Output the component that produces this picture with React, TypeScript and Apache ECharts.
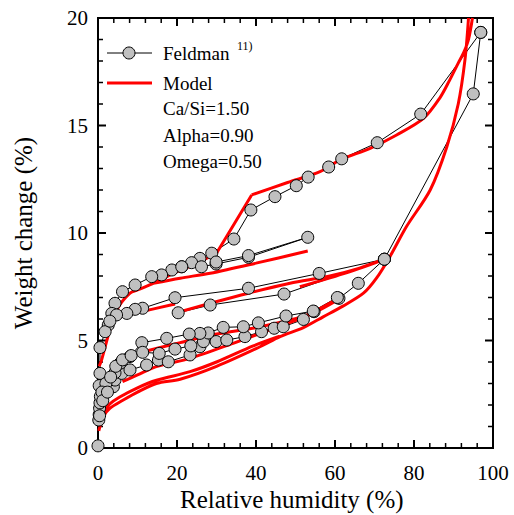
import React, { useEffect, useRef } from "react";
import * as echarts from "echarts";

type P = [number, number];

// Feldman measured data (RH %, weight change %)
const feldmanAdsorption: P[] = [
  [0, 0.1], [0.2, 1.3], [0.3, 1.55], [0.4, 1.85], [0.5, 2.1], [0.6, 2.4], [1.8, 2.85], [2.6, 2.93],
  [3.9, 2.85], [4.3, 3.16], [6.0, 3.47], [8.1, 3.63], [12.3, 3.86], [15.3, 4.09], [17.8, 4.01],
  [23.3, 4.33], [25.8, 4.71], [26.7, 4.95], [29.9, 4.95], [32.6, 5.02], [37.2, 5.18], [41.4, 5.41],
  [44.6, 5.57], [46.9, 5.64], [52, 5.98], [54.7, 6.34], [61, 6.96], [65.9, 7.66], [72.5, 8.78],
  [95, 16.47], [96.9, 19.33],
];
const feldmanDesorption: P[] = [
  [96.9, 19.33], [81.7, 15.53], [70.7, 14.2], [61.7, 13.45], [58.4, 13.07], [53.2, 12.6], [50.2, 12.2],
  [44.8, 11.69], [38.7, 11.07], [34.4, 9.72], [28.8, 9.06], [25.8, 8.82], [23.7, 8.62], [21.2, 8.43],
  [18.7, 8.28], [16.1, 8.05], [13.6, 7.97], [9.4, 7.58], [6.2, 7.27], [4.3, 6.73], [3.5, 6.26],
  [2.6, 5.72], [1.8, 5.41], [0.5, 4.67], [0.5, 3.47], [0.3, 2.9],
];
const feldmanScanUpper: P[] = [
  [21.2, 8.43], [26.2, 8.43], [29.9, 8.56], [38.1, 8.87], [53.1, 9.8], [38.1, 8.95], [29.9, 8.65],
];
const feldmanScanMiddle: P[] = [
  [72.5, 8.78], [56, 8.12], [38.1, 7.43], [19.5, 6.99], [11.3, 6.5], [9.4, 6.45], [7.3, 6.26],
  [4.7, 6.19], [3.0, 5.9],
];
const feldmanScanMiddle2: P[] = [[20.3, 6.29], [28.4, 6.65], [47.1, 7.16], [72.5, 8.78]];
const feldmanScanLower: P[] = [
  [60.6, 7.0], [54.5, 6.37], [47.6, 6.14], [40.6, 5.82], [36.8, 5.64], [31.7, 5.61], [27.9, 5.35],
  [25.8, 5.33], [23.1, 5.3], [17.4, 5.1], [11.1, 4.9], [8.1, 4.25], [5.6, 3.94], [4.3, 3.5],
  [2.0, 3.0], [1.0, 2.6],
];
const feldmanScanLow2: P[] = [
  [0.4, 1.5], [1.2, 2.2], [2.4, 2.6], [3.2, 3.3], [4.5, 3.8], [6.2, 4.1], [8.4, 4.3], [11.3, 4.45],
  [15.5, 4.4], [19.5, 4.6], [23.5, 4.75],
];

// Model curves
const modelDesorptionHigh: P[] = [
  [94.8, 20], [93.8, 19], [92.6, 18.4], [91.2, 17.9], [89, 17.1], [86.6, 16.3], [82.4, 15.33],
  [75.6, 14.56], [68.9, 13.94], [61.3, 13.4], [56.2, 12.85], [48, 12.35], [38.9, 11.77],
];
const modelDesorptionStep: P[] = [[38.9, 11.77], [30, 9.06]];
const modelDesorptionLow: P[] = [
  [30, 9.06], [24, 8.5], [20, 8.2], [14, 7.66], [10, 7.35], [8.1, 7.2], [5, 6.5], [3, 5.49],
  [1.8, 4.7], [0.9, 4.09], [0.3, 3.8],
];
const modelScanUpper: P[] = [[14, 7.66], [20.8, 7.9], [28.4, 8.13], [40, 8.6], [53.1, 9.16]];
const modelAdsorption: P[] = [
  [0.2, 0.8], [0.5, 1.0], [1.5, 1.5], [3, 1.85], [6.4, 2.23], [10, 2.6], [14.8, 3.0], [20.8, 3.2],
  [30, 3.8], [41, 4.71], [46.1, 5.18], [52, 5.6], [57, 6.1], [62, 6.6], [67.2, 7.2], [70.5, 7.9],
  [73.9, 8.9], [78.1, 10.3], [84.1, 12.0], [88.3, 14.0], [91.2, 16.0], [92.9, 18.05], [93.8, 20],
];
const modelScanA: P[] = [
  [6.2, 3.09], [10, 3.4], [15, 3.8], [23.3, 4.17], [34.2, 4.87], [45, 5.6], [53.7, 6.2], [60.8, 6.9],
];
const modelScanB: P[] = [
  [11.5, 4.48], [20.8, 4.9], [30, 5.3], [40, 5.6], [48.6, 5.95], [53.7, 6.25], [60.8, 6.96],
];
const modelScanC: P[] = [
  [0.3, 1.1], [1.5, 1.7], [3, 2.05], [5.4, 2.36], [10, 2.8], [14.8, 3.15], [23.3, 3.55], [30, 4.0],
  [39.3, 4.75], [46, 5.2],
];
const modelScanD: P[] = [[4.7, 6.1], [10, 6.3], [19.5, 6.7]];
const modelScanE: P[] = [
  [20.8, 6.34], [28.4, 6.73], [38.1, 7.2], [48.6, 7.66], [58.7, 8.0], [66, 8.35], [72.5, 8.78],
];
const modelScanF: P[] = [[51.1, 7.5], [62, 8.1], [72.5, 8.78]];

// Tick positions (values on the axes)
const xTickValues = [0, 4, 8, 12, 16, 20, 24, 28, 32, 36, 40, 44, 48, 52, 56, 60, 64, 68, 72, 76, 80, 84, 88, 92, 96, 100];
const xMajorTicks = [0, 20, 40, 60, 80, 100];
const yTickValues = [0, 1, 2, 3, 4, 5, 6, 7, 8, 9, 10, 11, 12, 13, 14, 15, 16, 17, 18, 19, 20];
const yMajorTicks = [0, 5, 10, 15, 20];

const feldmanSets = [
  feldmanAdsorption, feldmanDesorption, feldmanScanUpper, feldmanScanMiddle, feldmanScanMiddle2,
  feldmanScanLower, feldmanScanLow2,
];
const modelSets = [
  modelDesorptionHigh, modelDesorptionStep, modelDesorptionLow, modelScanUpper, modelAdsorption,
  modelScanA, modelScanB, modelScanC, modelScanD, modelScanE, modelScanF,
];

const legendLines = ["Ca/Si=1.50", "Alpha=0.90", "Omega=0.50"];

const FONT = "Liberation Serif";
const X_MIN = 0, X_MAX = 100, Y_MIN = 0, Y_MAX = 20;

// join separate polylines into one series, with gaps between them
function joinWithGaps(sets: P[][]): any[] {
  const out: any[] = [];
  sets.forEach((s, i) => {
    if (i > 0) out.push(["-", "-"]);
    s.forEach((p) => out.push(p));
  });
  return out;
}

export default function App() {
  const ref = useRef<HTMLDivElement>(null);
  useEffect(() => {
    if (!ref.current) return;
    const chart = echarts.init(ref.current, null, { renderer: "svg" });
    const labelStyle = { fontFamily: FONT, fontSize: 21, color: "#000" };

    // tick/frame descriptors: [value, kind(0 = x tick, 1 = y tick, 2 = frame), isMajor]
    const frameData: number[][] = [];
    xTickValues.forEach((v) => frameData.push([v, 0, xMajorTicks.indexOf(v) >= 0 ? 1 : 0]));
    yTickValues.forEach((v) => frameData.push([v, 1, yMajorTicks.indexOf(v) >= 0 ? 1 : 0]));
    frameData.push([0, 2, 0]);

    const stroke = { stroke: "#000", lineWidth: 2 };
    const frameSeries = {
      type: "custom",
      coordinateSystem: "cartesian2d",
      silent: true,
      data: frameData,
      encode: { x: 0, y: 1 },
      renderItem: (_params: any, api: any) => {
        const v = api.value(0);
        const kind = api.value(1);
        const len = api.value(2) ? 8 : 5;
        const w = api.value(2) ? 2 : 1.5;
        if (kind === 0) {
          const b = api.coord([v, Y_MIN]);
          const t = api.coord([v, Y_MAX]);
          return {
            type: "group",
            children: [
              { type: "line", shape: { x1: b[0], y1: b[1], x2: b[0], y2: b[1] - len }, style: { stroke: "#000", lineWidth: w } },
              { type: "line", shape: { x1: t[0], y1: t[1], x2: t[0], y2: t[1] + len }, style: { stroke: "#000", lineWidth: w } },
            ],
          };
        }
        if (kind === 1) {
          const l = api.coord([X_MIN, v]);
          const r = api.coord([X_MAX, v]);
          return {
            type: "group",
            children: [
              { type: "line", shape: { x1: l[0], y1: l[1], x2: l[0] + len, y2: l[1] }, style: { stroke: "#000", lineWidth: w } },
              { type: "line", shape: { x1: r[0], y1: r[1], x2: r[0] - len, y2: r[1] }, style: { stroke: "#000", lineWidth: w } },
            ],
          };
        }
        const tl = api.coord([X_MIN, Y_MAX]);
        const tr = api.coord([X_MAX, Y_MAX]);
        const br = api.coord([X_MAX, Y_MIN]);
        return {
          type: "group",
          children: [
            { type: "line", shape: { x1: tl[0] - 1, y1: tl[1], x2: tr[0] + 1, y2: tr[1] }, style: stroke },
            { type: "line", shape: { x1: tr[0], y1: tr[1], x2: br[0], y2: br[1] + 1 }, style: stroke },
          ],
        };
      },
    };

    const series: any[] = [
      frameSeries,
      {
        type: "line", name: "Feldman", data: joinWithGaps(feldmanSets),
        symbol: "circle", symbolSize: 12, connectNulls: false,
        lineStyle: { color: "#000", width: 1 },
        itemStyle: { color: "#c0c0c0", borderColor: "#000", borderWidth: 1 },
      },
      {
        type: "line", name: "Model", data: joinWithGaps(modelSets),
        symbol: "none", smooth: 0.3, connectNulls: false,
        lineStyle: { color: "#ff0000", width: 3 },
        itemStyle: { color: "#ff0000" },
      },
    ];

    const g: any[] = [
      { type: "line", shape: { x1: 107, y1: 53, x2: 152, y2: 53 }, style: { stroke: "#000", lineWidth: 1 } },
      { type: "circle", shape: { cx: 129, cy: 53, r: 6 }, style: { fill: "#c0c0c0", stroke: "#000", lineWidth: 1 } },
      { type: "text", x: 163, y: 44, style: { text: "Feldman", fontFamily: FONT, fontSize: 19, fill: "#000" } },
      { type: "text", x: 237, y: 40, style: { text: "11)", fontFamily: FONT, fontSize: 12, fill: "#000" } },
      { type: "line", shape: { x1: 107, y1: 83, x2: 152, y2: 83 }, style: { stroke: "#ff0000", lineWidth: 3 } },
      { type: "text", x: 163, y: 74, style: { text: "Model", fontFamily: FONT, fontSize: 19, fill: "#000" } },
    ];
    legendLines.forEach((t, i) => {
      g.push({
        type: "text", x: 163, y: 99 + i * 26.5,
        style: { text: t, fontFamily: FONT, fontSize: 19, fill: "#000" },
      });
    });
    g.push({
      type: "text", x: 180, y: 487,
      style: { text: "Relative humidity (%)", fontFamily: FONT, fontSize: 25, fill: "#000" },
    });

    chart.setOption({
      animation: false,
      grid: { left: 98, right: 21, top: 18, bottom: 67 },
      xAxis: {
        type: "value", min: X_MIN, max: X_MAX, interval: 20, position: "bottom",
        splitLine: { show: false },
        axisLine: { show: true, onZero: false, lineStyle: { color: "#000", width: 2 } },
        axisTick: { show: false },
        axisLabel: { show: true, margin: 14, ...labelStyle },
      },
      yAxis: {
        type: "value", min: Y_MIN, max: Y_MAX, interval: 5, position: "left",
        splitLine: { show: false },
        axisLine: { show: true, onZero: false, lineStyle: { color: "#000", width: 2 } },
        axisTick: { show: false },
        name: "Weight change (%)", nameLocation: "middle", nameRotate: 90, nameGap: 62,
        nameTextStyle: { fontFamily: FONT, fontSize: 25, color: "#000" },
        axisLabel: { show: true, margin: 10, ...labelStyle },
      },
      series,
      graphic: g,
    });
    return () => chart.dispose();
  }, []);
  return <div ref={ref} style={{ width: 514, height: 515, position: "absolute", left: 0, top: 0 }} />;
}
